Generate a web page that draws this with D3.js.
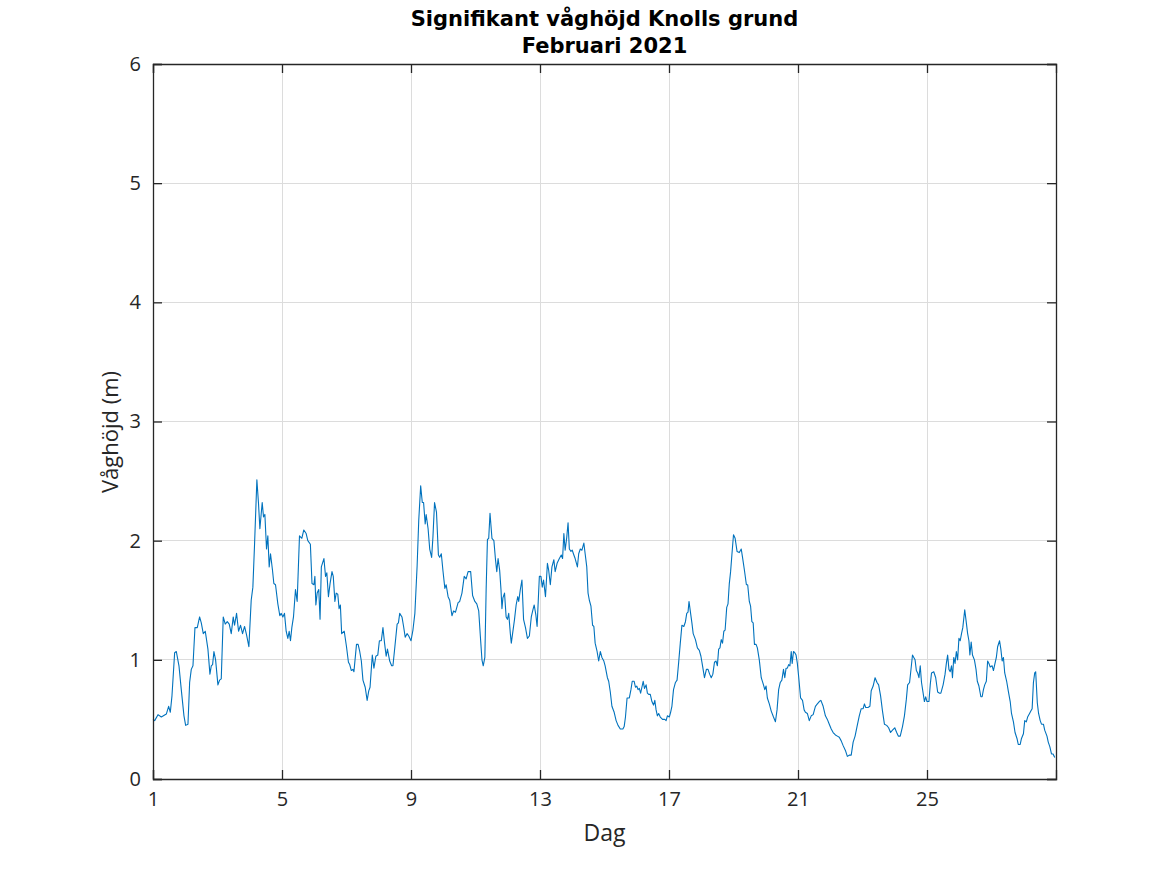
<!DOCTYPE html>
<html><head><meta charset="utf-8">
<script src="https://cdn.jsdelivr.net/npm/d3@7"></script>
<style>body{margin:0;background:#fff}svg{display:block}text{font-family:"Open Sans",sans-serif;fill:#262626}</style>
</head><body><div id="chart"></div>
<script>
const titleLines = ["Signifikant våghöjd Knolls grund", "Februari 2021"];
const xLabel = "Dag";
const yLabel = "Våghöjd (m)";
const xTicks = [1, 5, 9, 13, 17, 21, 25];
const yTicks = [0, 1, 2, 3, 4, 5, 6];
const days = [
1.000,1.052,1.155,1.258,1.413,1.485,1.537,1.589,1.671,1.723,1.805,1.877,1.960,2.012,2.084,2.136,2.187,2.239,2.301,2.373,
2.445,2.497,2.559,2.621,2.703,2.765,2.807,2.848,2.889,2.941,3.013,3.065,3.116,3.178,3.240,3.302,3.364,3.426,3.488,3.529,
3.591,3.653,3.715,3.777,3.839,3.901,3.973,4.045,4.097,4.149,4.221,4.272,4.314,4.386,4.427,4.469,4.520,4.561,4.603,4.644,
4.706,4.747,4.799,4.871,4.933,4.974,5.026,5.077,5.129,5.181,5.222,5.263,5.305,5.356,5.418,5.470,5.542,5.614,5.676,5.749,
5.80,5.88,5.93,5.99,6.02,6.05,6.09,6.14,6.18,6.22,6.30,6.35,6.39,6.44,6.49,6.55,6.59,6.64,6.68,6.73,
6.77,6.81,6.85,6.93,7.00,7.06,7.10,7.15,7.20,7.23,7.31,7.36,7.41,7.46,7.51,7.58,7.64,7.69,7.73,7.80,
7.85,7.91,7.97,8.02,8.08,8.13,8.18,8.23,8.27,8.34,8.40,8.44,8.50,8.57,8.61,8.65,8.72,8.77,8.82,8.88,
8.93,9.00,9.06,9.12,9.19,9.24,9.30,9.35,9.39,9.44,9.47,9.53,9.58,9.64,9.68,9.73,9.79,9.85,9.89,9.94,
9.99,10.05,10.09,10.15,10.20,10.27,10.32,10.38,10.46,10.51,
10.58,10.65,10.71,10.77,10.85,10.91,10.98,11.04,11.10,11.15,11.20,11.24,11.29,11.33,11.37,11.41,11.45,11.51,11.57,11.62,
11.66,11.70,11.75,11.79,11.82,11.85,11.90,11.95,11.99,12.03,12.08,12.11,12.15,12.21,12.26,12.31,12.34,12.39,12.44,12.49,
12.55,12.61,12.67,12.73,12.78,12.82,12.87,12.91,12.94,12.98,13.03,13.07,13.11,13.17,13.23,13.27,13.32,13.37,13.43,13.47,
13.53,13.60,13.66,13.70,13.74,13.78,13.83,13.87,13.91,13.96,14.00,14.05,14.09,14.16,14.20,14.25,14.30,14.36,14.40,14.45,
14.49,14.53,14.58,14.63,14.67,14.71,14.77,14.82,14.87,14.92,14.98,15.02,15.09,
15.13,15.18,15.23,15.30,15.36,15.42,15.49,15.57,15.61,15.65,15.70,15.77,15.82,15.86,15.92,15.96,16.00,16.04,16.08,16.12,
16.16,16.20,16.24,16.29,16.33,16.37,16.42,16.47,16.52,16.56,16.60,16.64,16.68,16.73,16.80,16.87,16.91,16.95,17.01,17.05,
17.09,17.14,17.20,17.25,17.30,17.35,17.40,17.46,17.51,17.55,17.59,17.62,17.67,17.71,17.75,17.82,17.88,17.94,17.99,18.04,
18.10,18.16,18.21,18.26,18.31,18.36,18.41,18.46,18.50,18.54,18.58,18.62,18.66,18.70,18.74,18.79,18.83,18.87,18.91,18.95,
19.00,19.05,19.11,19.18,19.24,19.28,19.34,19.40,19.44,19.49,19.53,19.57,19.61,19.65,
19.70,19.74,19.80,19.86,19.93,19.97,20.01,20.05,20.11,20.17,20.24,20.30,20.35,20.40,20.45,20.50,20.55,20.59,20.63,20.67,
20.71,20.75,20.79,20.82,20.86,20.90,20.94,20.98,21.02,21.08,21.14,21.19,21.23,21.29,21.35,21.41,21.47,21.54,21.60,21.66,
21.71,21.78,21.85,21.91,21.97,22.03,22.09,22.16,22.22,22.28,22.34,22.40,22.47,22.53,22.59,22.65,22.71,22.77,22.83,22.90,
22.96,23.02,23.06,23.10,23.17,23.23,23.27,23.33,23.39,23.45,23.50,23.56,23.62,23.68,23.75,23.81,23.87,23.93,24.00,24.06,
24.11,24.17,24.24,24.30,24.36,24.40,24.46,24.50,24.55,24.59,24.63,24.67,24.71,24.75,24.79,24.83,24.88,24.92,24.96,25.00,
25.06,25.10,25.14,25.21,25.27,25.33,25.39,25.43,25.50,25.56,25.60,25.64,25.68,25.72,25.76,25.79,25.83,25.87,25.91,25.95,
25.99,26.03,26.07,26.11,26.17,26.22,26.26,26.30,26.33,26.37,26.41,26.47,26.52,26.56,26.61,26.67,26.71,26.75,26.79,26.84,
26.88,26.92,26.96,27.02,27.06,27.10,27.15,27.19,27.25,27.29,27.33,27.37,27.41,27.47,27.52,27.58,27.62,27.68,27.73,27.79,
27.83,27.89,27.93,27.99,28.03,28.08,28.12,28.18,28.22,28.26,28.30,28.34,28.37,28.42,28.46,28.51,28.55,28.61,28.65,28.72,
28.76,28.81,28.86,28.91,28.96
];
const waveHeight = [
0.50,0.49,0.54,0.52,0.545,0.61,0.56,0.70,1.06,1.07,0.95,0.75,0.53,0.45,0.46,0.81,0.92,0.95,1.27,1.27,
1.36,1.31,1.22,1.24,1.09,0.88,0.95,0.96,1.07,1.00,0.79,0.83,0.84,1.36,1.30,1.32,1.30,1.22,1.36,1.29,
1.39,1.24,1.29,1.22,1.28,1.21,1.11,1.50,1.61,1.97,2.51,2.31,2.10,2.32,2.20,2.22,1.93,2.04,1.78,1.89,
1.75,1.64,1.63,1.47,1.37,1.39,1.36,1.39,1.24,1.18,1.24,1.16,1.27,1.36,1.59,1.49,2.04,2.02,2.09,2.06,
2.00,1.97,1.64,1.63,1.70,1.46,1.56,1.59,1.34,1.78,1.85,1.70,1.73,1.53,1.64,1.74,1.70,1.49,1.56,1.55,
1.43,1.46,1.22,1.24,1.11,0.98,0.96,0.91,0.92,0.90,1.13,1.13,1.07,0.99,0.83,0.77,0.66,0.74,0.77,1.04,
0.93,1.03,1.04,1.16,1.16,1.27,1.14,1.03,1.09,0.99,0.95,0.95,1.11,1.30,1.31,1.39,1.36,1.28,1.19,1.22,
1.20,1.16,1.25,1.39,1.79,2.17,2.46,2.32,2.32,2.14,2.22,2.10,1.93,1.86,2.03,2.32,2.24,1.88,1.86,1.89,
1.75,1.60,1.63,1.53,1.50,1.37,1.41,1.40,1.48,1.49,
1.56,1.70,1.68,1.74,1.74,1.54,1.49,1.47,1.41,1.20,1.00,0.95,1.02,1.59,2.01,2.02,2.23,2.02,2.00,1.84,
1.74,1.85,1.75,1.59,1.43,1.52,1.56,1.36,1.34,1.39,1.22,1.14,1.22,1.34,1.46,1.53,1.49,1.59,1.67,1.34,
1.27,1.18,1.20,1.36,1.42,1.46,1.38,1.28,1.46,1.70,1.70,1.61,1.67,1.53,1.81,1.75,1.63,1.78,1.84,1.74,
1.81,1.85,1.88,1.85,2.06,1.92,2.03,2.15,1.93,1.91,1.92,1.88,1.85,1.78,1.89,1.93,1.92,1.98,1.89,1.78,
1.56,1.50,1.45,1.29,1.28,1.14,1.07,0.99,1.07,1.02,0.99,0.95,0.85,
0.82,0.73,0.61,0.56,0.49,0.45,0.42,0.42,0.44,0.52,0.68,0.68,0.75,0.82,0.82,0.77,0.78,0.75,0.76,0.72,
0.77,0.82,0.76,0.79,0.72,0.71,0.71,0.65,0.62,0.66,0.58,0.53,0.55,0.52,0.50,0.50,0.49,0.53,0.52,0.56,
0.61,0.75,0.81,0.83,0.98,1.14,1.29,1.28,1.32,1.39,1.40,1.49,1.39,1.31,1.22,1.17,1.10,1.08,1.03,0.95,
0.85,0.92,0.92,0.88,0.85,0.88,0.98,0.99,0.95,1.09,1.10,1.17,1.14,1.24,1.25,1.44,1.47,1.64,1.74,1.88,
2.05,2.02,1.91,1.90,1.93,1.86,1.75,1.63,1.63,1.49,1.45,1.32,1.31,1.13,
1.13,1.10,1.00,0.85,0.79,0.75,0.78,0.68,0.63,0.57,0.52,0.48,0.58,0.75,0.81,0.83,0.92,0.85,0.93,0.93,
0.96,0.95,1.07,0.97,1.07,1.06,1.04,0.97,0.86,0.68,0.66,0.58,0.56,0.55,0.49,0.53,0.54,0.61,0.63,0.65,
0.66,0.61,0.53,0.50,0.46,0.42,0.39,0.37,0.36,0.35,0.32,0.28,0.24,0.19,0.20,0.20,0.31,0.36,0.44,0.53,
0.59,0.59,0.63,0.60,0.60,0.61,0.74,0.78,0.85,0.81,0.79,0.70,0.57,0.46,0.45,0.43,0.39,0.41,0.43,0.39,
0.36,0.36,0.44,0.53,0.67,0.79,0.81,0.91,1.04,1.02,1.00,0.91,0.89,0.85,0.95,0.81,0.72,0.65,0.69,0.65,
0.65,0.79,0.89,0.90,0.85,0.73,0.72,0.72,0.79,0.88,0.97,1.04,0.92,0.90,0.95,0.85,1.02,0.97,1.07,1.00,
1.18,1.16,1.22,1.27,1.42,1.31,1.22,1.16,1.04,1.15,1.04,1.00,0.92,0.82,0.78,0.69,0.69,0.75,0.79,0.82,
0.99,0.97,0.94,0.95,0.91,0.96,1.02,1.11,1.16,1.09,0.99,1.02,0.89,0.82,0.74,0.65,0.55,0.48,0.39,0.34,
0.29,0.29,0.34,0.38,0.49,0.48,0.52,0.55,0.57,0.59,0.81,0.89,0.90,0.64,0.55,0.49,0.46,0.46,0.41,0.36,
0.31,0.27,0.21,0.21,0.18
];

const W = 1167, H = 875;
const m = {left: 153, right: 1056, top: 64, bottom: 779};
const axisColor = "#262626";
const font = '"Open Sans", sans-serif';
const svg = d3.select("#chart").append("svg").attr("width", W).attr("height", H);
const x = d3.scaleLinear().domain([1, 29]).range([m.left, m.right]);
const y = d3.scaleLinear().domain([0, 6]).range([m.bottom, m.top]);

// grid
const g = svg.append("g");
g.selectAll(".vg").data(xTicks.filter(d => d > 1)).enter().append("line")
  .attr("x1", d => x(d)).attr("x2", d => x(d)).attr("y1", m.top).attr("y2", m.bottom)
  .attr("stroke", "#dcdcdc").attr("stroke-width", 1).attr("shape-rendering", "crispEdges");
g.selectAll(".hg").data(yTicks.filter(d => d > 0 && d < 6)).enter().append("line")
  .attr("x1", m.left).attr("x2", m.right).attr("y1", d => y(d)).attr("y2", d => y(d))
  .attr("stroke", "#dcdcdc").attr("stroke-width", 1).attr("shape-rendering", "crispEdges");

// line
const data = days.map((d, i) => [d, waveHeight[i]]);
svg.append("path").datum(data)
  .attr("fill", "none").attr("stroke", "#0072BD").attr("stroke-width", 1.1)
  .attr("stroke-linejoin", "round")
  .attr("d", d3.line().x(d => x(d[0])).y(d => y(d[1])));

// axes
const tl = 9;
const fs = 20;
const axB = svg.append("g").attr("transform", `translate(0,${m.bottom})`)
  .call(d3.axisBottom(x).tickValues(xTicks).tickFormat(d3.format("d")).tickSize(-tl).tickPadding(13));
const axT = svg.append("g").attr("transform", `translate(0,${m.top})`)
  .call(d3.axisTop(x).tickValues(xTicks).tickSize(-tl).tickFormat(""));
const axL = svg.append("g").attr("transform", `translate(${m.left},0)`)
  .call(d3.axisLeft(y).tickValues(yTicks).tickFormat(d3.format("d")).tickSize(-tl).tickPadding(12));
const axR = svg.append("g").attr("transform", `translate(${m.right},0)`)
  .call(d3.axisRight(y).tickValues(yTicks).tickSize(-tl).tickFormat(""));
[axB, axT, axL, axR].forEach(a => {
  a.select(".domain").attr("stroke", axisColor).attr("stroke-width", 1.3);
  a.selectAll(".tick line").attr("stroke", axisColor).attr("stroke-width", 1.3);
  a.selectAll("text").attr("fill", axisColor).style("font-size", fs + "px")
    .style("font-family", font);
});

// titles
const cx = (m.left + m.right) / 2;
const titleFont = '"DejaVu Sans", sans-serif';
svg.append("text").attr("x", cx).attr("y", 26).attr("text-anchor", "middle")
  .style("font-family", titleFont).style("font-size", "21px").style("font-weight", "bold").style("fill", "#000").text(titleLines[0]);
svg.append("text").attr("x", cx).attr("y", 53).attr("text-anchor", "middle")
  .style("font-family", titleFont).style("font-size", "21px").style("font-weight", "bold").style("fill", "#000").text(titleLines[1]);
svg.append("text").attr("x", cx).attr("y", 841).attr("text-anchor", "middle")
  .style("font-size", "23px").text(xLabel);
svg.append("text").attr("transform", `translate(118,432) rotate(-90)`).attr("text-anchor", "middle")
  .style("font-size", "22px").text(yLabel);
</script></body></html>
